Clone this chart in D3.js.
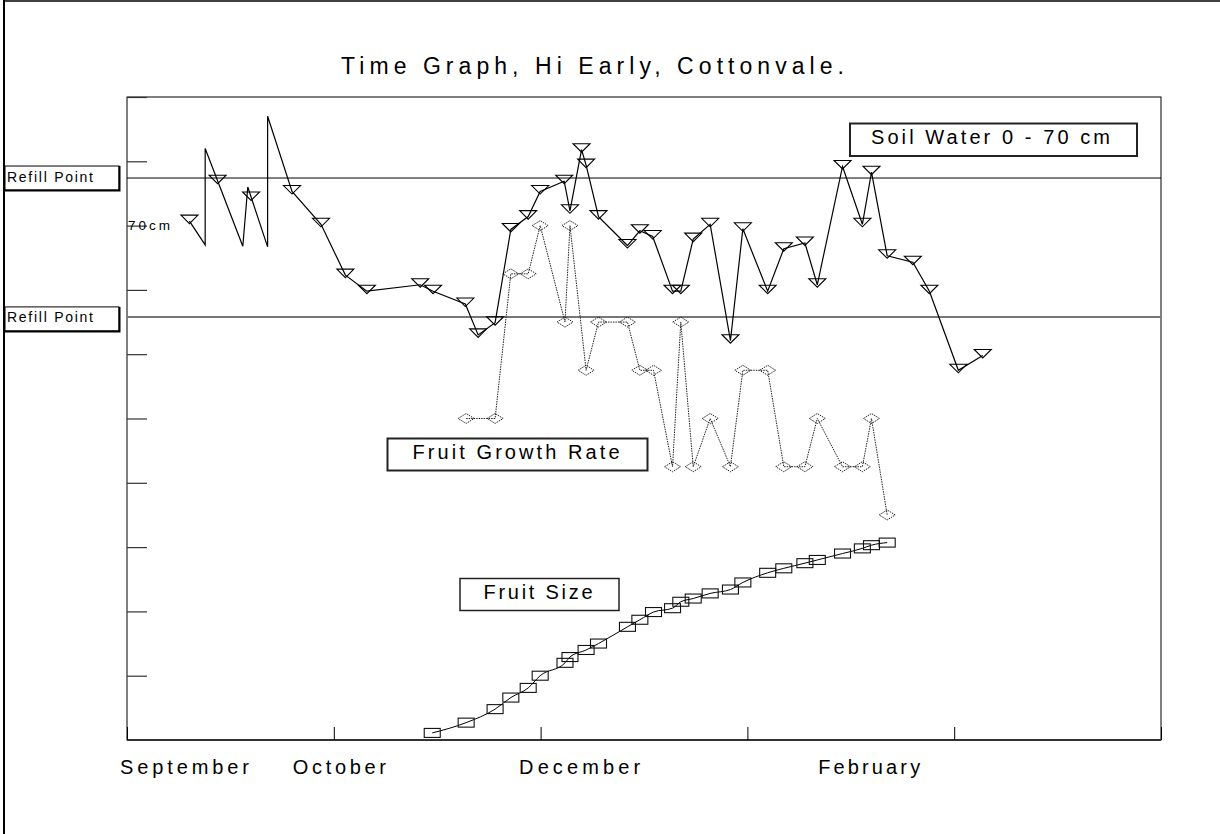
<!DOCTYPE html>
<html><head><meta charset="utf-8">
<script src="https://cdn.jsdelivr.net/npm/d3@7"></script>
<style>
body{margin:0;background:#fff}
svg{display:block}
text{font-family:"Liberation Sans",Arial,sans-serif;fill:#000}
</style>
</head><body>
<svg id="chart" width="1220" height="834"></svg>
<script>
// ---------------- DATA ----------------
const chartTitle = "Time Graph, Hi Early, Cottonvale.";
const xTickDays = [0, 50, 100, 150, 200, 250];
const yTickValues = [10, 20, 30, 40, 50, 60, 70, 80, 90, 100];
const monthLabels = ["September", "October", "December", "February"];
const monthLabelDays = [-1.7, 40.1, 94.8, 167.1];
const refillLevels = [87.4, 65.8];
const refillLabel = "Refill Point";
const depthLabel = "70cm";
const depthLabelValue = 80;
const seriesLabels = ["Soil Water 0 - 70 cm", "Fruit Growth Rate", "Fruit Size"];

// Soil water 0-70 cm: line vertices [day, value]
const soilLine = [
  [15.1,80.7],[18.9,77.0],[18.9,92.0],[28.0,76.8],[29.2,86.0],[34.0,76.7],[34.0,97.0],
  [39.9,85.3],[46.9,80.2],[52.8,72.3],[58.0,69.8],[70.9,70.8],[74.0,69.8],[81.8,67.8],
  [84.9,63.0],[89.0,64.9],[92.8,79.4],[97.0,81.4],[99.9,85.3],[105.7,86.9],[107.1,82.3],
  [109.9,91.8],[111.0,89.4],[114.0,81.4],[121.0,76.9],[124.0,79.2],[127.1,78.3],[131.9,69.8],
  [133.9,69.8],[136.9,77.9],[141.0,80.2],[145.9,62.1],[148.9,79.5],[154.9,69.8],[158.8,76.4],
  [163.9,77.3],[166.9,70.8],[173.0,89.2],[177.8,80.2],[180.0,88.3],[183.8,75.3],[190.0,74.3],
  [194.0,69.8],[201.0,57.5],[206.9,59.8]
];
// Soil water: marked readings [day, value]
const soilMarks = [
  [15.1,80.7],[21.9,86.9],[30.0,84.3],
  [39.9,85.3],[46.9,80.2],[52.8,72.3],[58.0,69.8],[70.9,70.8],[74.0,69.8],[81.8,67.8],
  [84.9,63.0],[89.0,64.9],[92.8,79.4],[97.0,81.4],[99.9,85.3],[105.7,86.9],[107.1,82.3],
  [109.9,91.8],[111.0,89.4],[114.0,81.4],[121.0,76.9],[124.0,79.2],[127.1,78.3],[131.9,69.8],
  [133.9,69.8],[136.9,77.9],[141.0,80.2],[145.9,62.1],[148.9,79.5],[154.9,69.8],[158.8,76.4],
  [163.9,77.3],[166.9,70.8],[173.0,89.2],[177.8,80.2],[180.0,88.3],[183.8,75.3],[190.0,74.3],
  [194.0,69.8],[201.0,57.5],[206.9,59.8]
];

// Fruit growth rate
const growthDays = [82.0,89.0,92.8,97.0,99.9,105.9,107.1,111.0,114.0,121.0,124.0,127.3,131.9,
  133.9,136.9,141.0,145.9,148.9,154.9,158.8,163.9,166.9,173.0,177.8,180.0,183.8];
const growthValues = [50.0,50.0,72.5,72.5,80.0,65.0,80.0,57.5,65.0,65.0,57.5,57.5,42.5,
  65.0,42.5,50.0,42.5,57.5,57.5,42.5,42.5,50.0,42.5,42.5,50.0,35.0];

// Fruit size
const sizeDays = [73.8,82.0,89.0,92.8,97.0,99.9,105.9,107.1,111.0,114.0,121.0,124.0,127.3,131.9,
  133.9,136.9,141.0,145.9,148.9,154.9,158.8,163.9,166.9,173.0,177.8,180.0,183.8];
const sizeValues = [1.1,2.7,4.8,6.6,8.1,10.0,12.0,12.9,14.0,15.0,17.6,18.7,19.9,20.5,
  21.5,22.0,22.8,23.4,24.5,26.0,26.7,27.5,28.0,29.0,29.8,30.3,30.7];

// ---------------- CHART ----------------
const svg = d3.select("#chart");
const F = {left:127, right:1161, top:97, bottom:740};
const x = d3.scaleLinear().domain([0,250]).range([F.left, F.right]);
const y = d3.scaleLinear().domain([0,100]).range([F.bottom, F.top]);

// outer border
svg.append("line").attr("x1",4).attr("x2",4).attr("y1",0).attr("y2",834).attr("stroke","#000").attr("stroke-width",2);
svg.append("line").attr("x1",4).attr("x2",1220).attr("y1",1).attr("y2",1).attr("stroke","#000").attr("stroke-width",1.5);

// title
svg.append("text").attr("x",341).attr("y",74).attr("font-size",23)
  .attr("textLength",503).attr("lengthAdjust","spacing").text(chartTitle);

// frame
svg.append("rect").attr("x",F.left).attr("y",F.top).attr("width",F.right-F.left).attr("height",F.bottom-F.top)
  .attr("fill","none").attr("stroke","#000").attr("stroke-width",1);

// y axis ticks (inward)
const yAxis = d3.axisRight(y).tickValues(yTickValues).tickSize(20).tickFormat("");
const gy = svg.append("g").attr("transform",`translate(${F.left},0)`).call(yAxis);
gy.select(".domain").remove();
gy.selectAll(".tick line").attr("stroke","#333").attr("stroke-width",1.2);

// x axis ticks (inward, upward)
const xAxis = d3.axisTop(x).tickValues(xTickDays).tickSize(13).tickFormat("");
const gx = svg.append("g").attr("transform",`translate(0,${F.bottom})`).call(xAxis);
gx.select(".domain").attr("stroke","#333").attr("stroke-width",2).attr("d",`M${F.left},0H${F.right}`);
gx.selectAll(".tick line").attr("stroke","#000").attr("stroke-width",1);

// month labels
const monthWidths = [129, 93, 121, 102];
svg.selectAll("text.month").data(monthLabels).join("text").attr("class","month")
  .attr("x",(d,i)=>x(monthLabelDays[i])).attr("y",774).attr("font-size",20)
  .attr("textLength",(d,i)=>monthWidths[i]).attr("lengthAdjust","spacing").text(d=>d);

// refill lines + labels
refillLevels.forEach((lv,i)=>{
  svg.append("line").attr("x1",F.left).attr("x2",F.right).attr("y1",y(lv)).attr("y2",y(lv))
    .attr("stroke", i===0 ? "#000" : "#777").attr("stroke-width", i===0 ? 1 : 2);
  const yy = y(lv) + (i===0 ? 0 : 2);
  svg.append("rect").attr("x",5).attr("y",yy-12).attr("width",114).attr("height",24)
    .attr("fill","#fff").attr("stroke","#000").attr("stroke-width",1);
  svg.append("path").attr("d",`M5,${yy+12.5}H119.5V${yy-12}`).attr("fill","none").attr("stroke","#000").attr("stroke-width",2);
  svg.append("text").attr("x",7).attr("y",yy+3.5).attr("font-size",14)
    .attr("textLength",86).attr("lengthAdjust","spacing").text(refillLabel);
});

// 70cm label
svg.append("text").attr("x",F.left+1).attr("y",y(depthLabelValue)+4).attr("font-size",13.5)
  .attr("textLength",42).attr("lengthAdjust","spacing").text(depthLabel);

// series label boxes
const boxes = [
  {x0:850, x1:1137, y0:123.5, y1:156, tx:871, tw:239, ty:144},
  {x0:387.5, x1:647.5, y0:438.5, y1:470.5, tx:412.5, tw:207, ty:458.5},
  {x0:460, x1:619, y0:578.5, y1:610.5, tx:483.5, tw:109, ty:599}
];
boxes.forEach((b,i)=>{
  svg.append("rect").attr("x",b.x0).attr("y",b.y0).attr("width",b.x1-b.x0).attr("height",b.y1-b.y0)
    .attr("fill","#fff").attr("stroke","#222").attr("stroke-width",i===2?1.5:2);
  svg.append("text").attr("x",b.tx).attr("y",b.ty).attr("font-size",20)
    .attr("textLength",b.tw).attr("lengthAdjust","spacing").text(seriesLabels[i]);
});

// Fruit size
const sizeData = sizeDays.map((d,i)=>[d,sizeValues[i]]);
svg.append("path").datum(sizeData)
  .attr("d", d3.line().x(d=>x(d[0])).y(d=>y(d[1])).curve(d3.curveMonotoneX))
  .attr("fill","none").attr("stroke","#000").attr("stroke-width",1);
svg.selectAll("rect.sz").data(sizeData).join("rect").attr("class","sz")
  .attr("x",d=>x(d[0])-8).attr("y",d=>y(d[1])-4.5).attr("width",16).attr("height",9)
  .attr("fill","none").attr("stroke","#111").attr("stroke-width",1.1);

// Fruit growth rate
const growthData = growthDays.map((d,i)=>[d,growthValues[i]]);
svg.append("path").datum(growthData)
  .attr("d", d3.line().x(d=>x(d[0])).y(d=>y(d[1])))
  .attr("fill","none").attr("stroke","#222").attr("stroke-width",1).attr("stroke-dasharray","1.5,1");
svg.selectAll("path.gr").data(growthData).join("path").attr("class","gr")
  .attr("transform",d=>`translate(${x(d[0])},${y(d[1])})`)
  .attr("d","M-8,0L0,-5L8,0L0,5Z")
  .attr("fill","none").attr("stroke","#222").attr("stroke-width",1).attr("stroke-dasharray","1.5,1");

// Soil water
svg.append("path").datum(soilLine)
  .attr("d", d3.line().x(d=>x(d[0])).y(d=>y(d[1])))
  .attr("fill","none").attr("stroke","#000").attr("stroke-width",1.2);
svg.selectAll("path.sw").data(soilMarks).join("path").attr("class","sw")
  .attr("transform",d=>`translate(${x(d[0])},${y(d[1])})`)
  .attr("d","M-8.5,-6L8.5,-6L0,2.5Z")
  .attr("fill","none").attr("stroke","#000").attr("stroke-width",1.1);
</script>
</body></html>
